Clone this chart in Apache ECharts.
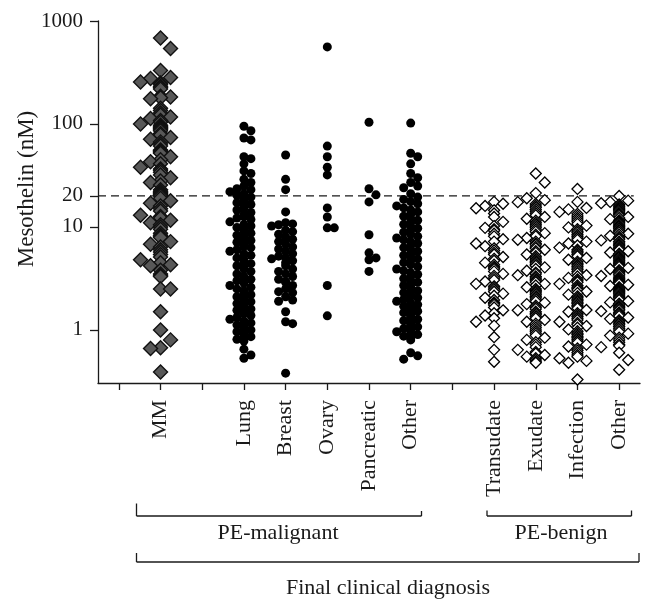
<!DOCTYPE html>
<html><head><meta charset="utf-8">
<script src="https://cdn.jsdelivr.net/npm/echarts@6/dist/echarts.min.js"></script>
<style>html,body{margin:0;padding:0;background:#fff}#c{width:656px;height:601px}</style>
</head><body><div id="c"></div>
<script>
// ---------- data ----------
const categoryNames = ['MM','Lung','Breast','Ovary','Pancreatic','Other','Transudate','Exudate','Infection','Other'];
const categoryPositions = [2,4,5,6,7,8,10,11,12,13];
const categoryGroups = ['mm','mal','mal','mal','mal','mal','ben','ben','ben','ben'];
const tickPositions = [1,2,3,4,5,6,7,8,9,10,11,12,13];
const yTickValues = [1,10,20,100,1000];
const cutoffValue = 20;

const mmValues = [684,540,330,282,276,256,250,243,232,226,219,186,183,180,176,142,
 135,128,122,117,113,108,104,100,97,94,92,91,89,
 86,81,78,74,71,67,64,61,
 56,55,54,53,52,48,45,43,41,38,36.5,35.5,34,
 32,30,28,27,25.5,23,22.2,21.6,21,20.5,20,
 19,18,17,16,15,14.3,13,12.6,12.2,11.6,11,10.5,10,9.5,
 8.7,8.3,8.1,7.9,7.2,6.8,6.4,6.0,5.7,5.4,5.1,
 4.8,4.5,4.3,4.2,3.8,3.5,3.4,3.3,
 2.5,2.5,1.5,1.0,0.8,0.67,0.66,0.39];

const lungValues = [95,86,73,70,48,46,41,35,33,29,27,25,23.5,23,22,21,20.3,19.5,18.8,18,17.2,16.5,16,15.2,14.6,13.8,13.2,12.6,12.2,11.8,11.2,10.6,10.2,9.9,9.4,9.1,8.7,8.3,8.0,7.7,7.4,7.1,6.8,6.5,6.3,6.0,5.8,5.5,5.3,5.0,4.8,4.6,4.4,4.2,4.0,3.9,3.7,3.5,3.3,3.2,3.1,3.0,2.85,2.7,2.6,2.5,2.4,2.3,2.2,2.1,2.0,1.95,1.88,1.8,1.72,1.66,1.6,1.55,1.5,1.44,1.38,1.32,1.27,1.22,1.17,1.12,1.08,1.03,1.0,0.96,0.92,0.89,0.86,0.84,0.81,0.78,0.65,0.57,0.53];

const breastValues = [50,29,23,14,11,10.7,10.5,10.2,9.3,9,8.5,8,7.8,7.6,7.2,6.8,6.4,6.1,5.8,5.5,5.2,5.0,4.9,4.7,4.5,4.2,3.9,3.7,3.5,3.3,3.1,2.95,2.9,2.7,2.5,2.35,2.3,2.1,1.95,1.9,1.5,1.2,1.15,0.38];

const ovaryValues = [560,61,48,38,32,15.3,12.5,9.8,9.8,2.7,1.37];

const pancreaticValues = [104,23.5,20.5,17.5,8.4,5.6,5.0,4.8,3.7];

const otherMalignantValues = [102,52,48,41,33,30,27,25,24,21,19.5,18.5,17.6,16.8,16,15.3,14.6,14,13.3,12.7,12.1,11.6,11.1,10.6,10.1,9.7,9.3,8.9,8.5,8.1,7.8,7.5,7.2,6.9,6.6,6.3,6.0,5.8,5.5,5.3,5.1,4.9,4.7,4.5,4.3,4.1,3.9,3.75,3.6,3.45,3.3,3.15,3.0,2.9,2.8,2.7,2.6,2.5,2.4,2.3,2.2,2.12,2.05,1.98,1.9,1.83,1.76,1.7,1.64,1.58,1.52,1.47,1.42,1.37,1.32,1.27,1.23,1.19,1.15,1.11,1.07,1.03,1.0,0.96,0.93,0.9,0.87,0.84,0.8,0.6,0.56,0.52];

const transudateValues = [17.5,16.8,16,15.2,14.5,13.5,12.5,11.2,10.2,9.8,9.5,9.2,8.6,8.1,7.6,7.2,6.9,6.5,6.2,5.9,5.6,5.4,5.1,4.9,4.7,4.5,4.3,4.1,4.0,3.9,3.7,3.5,3.35,3.2,3.05,2.95,2.8,2.65,2.55,2.45,2.35,2.25,2.15,2.05,1.95,1.85,1.8,1.75,1.65,1.55,1.45,1.38,1.3,1.2,1.1,0.85,0.64,0.49];

const exudateValues = [33,27,21.3,19,18.2,17.4,16.7,16,15.4,14.8,14.2,13.6,13,12.5,12,11.5,11,10.6,10.2,9.8,9.4,9.0,8.7,8.4,8.1,7.8,7.5,7.2,6.9,6.7,6.4,6.2,6.0,5.8,5.6,5.4,5.2,5.0,4.8,4.65,4.5,4.35,4.2,4.05,3.9,3.75,3.6,3.5,3.4,3.3,3.2,3.1,3.0,2.9,2.8,2.7,2.6,2.5,2.42,2.35,2.28,2.2,2.12,2.05,1.98,1.9,1.84,1.78,1.72,1.66,1.6,1.55,1.5,1.45,1.4,1.35,1.3,1.25,1.2,1.15,1.1,1.05,1.0,0.96,0.92,0.88,0.84,0.8,0.76,0.72,0.68,0.64,0.61,0.59,0.57,0.55,0.53,0.51,0.49,0.48];

const infectionValues = [23.4,17.5,15.3,14.8,14,13.4,12.8,12.2,11.7,11.2,10.7,10.3,9.9,9.5,9.1,8.8,8.4,8.1,7.8,7.5,7.2,6.9,6.6,6.3,6.0,5.8,5.6,5.4,5.2,5.0,4.8,4.6,4.45,4.3,4.15,4.0,3.85,3.7,3.55,3.4,3.3,3.2,3.1,3.0,2.9,2.8,2.7,2.6,2.52,2.44,2.36,2.28,2.2,2.12,2.05,1.98,1.92,1.86,1.8,1.74,1.68,1.62,1.56,1.5,1.45,1.4,1.35,1.3,1.25,1.2,1.17,1.13,1.09,1.05,1.01,0.97,0.93,0.9,0.87,0.84,0.81,0.78,0.75,0.72,0.69,0.66,0.63,0.6,0.57,0.55,0.53,0.5,0.48,0.33];

const otherBenignValues = [20,18,17.5,17,16.5,16,15.6,15.2,14.8,14.4,14,13.6,13.2,12.8,12.5,12.2,11.9,11.6,11.3,11,10.7,10.4,10.1,9.8,9.6,9.3,9.1,8.8,8.6,8.4,8.2,8.0,7.8,7.6,7.4,7.2,7.0,6.8,6.6,6.4,6.25,6.1,5.95,5.8,5.65,5.5,5.35,5.2,5.05,4.9,4.78,4.66,4.54,4.42,4.3,4.2,4.1,4.0,3.9,3.8,3.7,3.6,3.5,3.42,3.34,3.26,3.18,3.1,3.02,2.95,2.88,2.81,2.74,2.67,2.6,2.54,2.48,2.42,2.36,2.3,2.24,2.18,2.12,2.06,2.0,1.95,1.9,1.85,1.8,1.75,1.7,1.65,1.6,1.56,1.52,1.48,1.44,1.4,1.36,1.32,1.28,1.24,1.2,1.16,1.12,1.08,1.04,1.0,0.96,0.92,0.88,0.84,0.8,0.76,0.72,0.7,0.68,0.6,0.51,0.41];

const seriesValues = [mmValues,lungValues,breastValues,ovaryValues,pancreaticValues,otherMalignantValues,transudateValues,exudateValues,infectionValues,otherBenignValues];

// ---------- styles ----------
const FONT = 'Liberation Serif';
const INK = '#1a1a1a';
const groupStyle = {
  mm:  {symbol:'diamond', size:14, color:'#585858', border:'#111', bw:1.4, step:10, gap:12,  f:{'0':1,'1':1.6,'-1':1.6,'-2':3.5}},
  mal: {symbol:'circle',  size:9,  color:'#000',    border:'#000', bw:0,   step:7,  gap:6.5, f:{'0':1,'1':1,'-1':1,'-2':4.5}},
  ben: {symbol:'diamond', size:11, color:'#fff',    border:'#000', bw:1.3, step:9,  gap:10,  f:{'0':1,'1':1.6,'-1':1.6,'-2':3.5}}
};

const chart = echarts.init(document.getElementById('c'), null, {renderer:'canvas'});

const baseOption = {
  animation:false,
  backgroundColor:'#fff',
  textStyle:{fontFamily:FONT, color:INK},
  grid:{left:98, right:16, top:21, bottom:218, containLabel:false},
  xAxis:{
    type:'value', min:0.5, max:13.5,
    axisLine:{show:true, lineStyle:{color:INK, width:1.3}},
    axisTick:{show:true, length:7, inside:false, customValues:tickPositions, lineStyle:{color:INK, width:1.3}},
    axisLabel:{show:true, customValues:categoryPositions, rotate:90, margin:17,
      fontFamily:FONT, fontSize:22, color:INK,
      formatter:(v)=>{const i=categoryPositions.indexOf(Math.round(v)); return i>=0?categoryNames[i]:'';}},
    splitLine:{show:false}
  },
  yAxis:{
    type:'log', logBase:10, min:0.305, max:1000,
    axisLine:{show:true, lineStyle:{color:INK, width:1.3}},
    axisTick:{show:true, length:8, inside:false, customValues:yTickValues, lineStyle:{color:INK, width:1.3}},
    axisLabel:{show:true, customValues:yTickValues, margin:15, fontFamily:FONT, fontSize:21, color:INK,
      formatter:(v)=>String(Math.round(v))},
    splitLine:{show:false}
  },
  series:[]
};
chart.setOption(baseOption);

const xUnit = chart.convertToPixel({xAxisIndex:0}, 2) - chart.convertToPixel({xAxisIndex:0}, 1);
function yPx(v){ return chart.convertToPixel({yAxisIndex:0}, v); }

// deterministic column-scatter layout: spread sideways when room, else stack on the centre
function spread(values, pos, st){
  const slots=[0,1,-1,-2];
  const last={};
  const sorted=values.slice().sort((a,b)=>b-a);
  return sorted.map(v=>{
    const y=yPx(v);
    let chosen=0;
    let found=false;
    for(const k of slots){
      const need=st.gap*st.f[String(k)];
      if(last[k]===undefined || Math.abs(y-last[k])>=need){chosen=k;found=true;break;}
    }
    if(!found) chosen=0;
    else last[chosen]=y;
    return [pos+chosen*st.step/xUnit, v];
  });
}

const series=[{
  type:'line', silent:true, symbol:'none', z:1,
  data:[[0.5,cutoffValue],[13.35,cutoffValue]],
  lineStyle:{color:INK, width:1.3, type:[8,5]}
}];
seriesValues.forEach((vals,i)=>{
  const st=groupStyle[categoryGroups[i]];
  series.push({
    type:'scatter', name:categoryNames[i], z:2,
    symbol:st.symbol, symbolSize:st.size,
    itemStyle:{color:st.color, borderColor:st.border, borderWidth:st.bw, opacity:1},
    data:spread(vals, categoryPositions[i], st)
  });
});

const lw=1.3;
function ln(x1,y1,x2,y2){return {type:'line', shape:{x1,y1,x2,y2}, style:{stroke:INK, lineWidth:lw}, silent:true};}
function txt(t,x,y,rot){return {type:'text', x, y, rotation:rot||0, silent:true,
  style:{text:t, fontFamily:FONT, fontSize:22, fill:INK, align:'center', verticalAlign:'middle'}};}

const graphic=[
  {type:'text', x:27, y:189, rotation:Math.PI/2, silent:true,
   style:{text:'Mesothelin (nM)', fontFamily:FONT, fontSize:23, fill:INK, align:'center', verticalAlign:'middle'}},
  ln(136.5,516,421.5,516), ln(136.5,503.5,136.5,516), ln(421.5,511,421.5,516),
  txt('PE-malignant', 278, 533),
  ln(487,516,631.5,516), ln(487,510.5,487,516), ln(631.5,510.5,631.5,516),
  txt('PE-benign', 561, 533),
  ln(136.5,562,639,562), ln(136.5,553,136.5,562), ln(639,553,639,562),
  txt('Final clinical diagnosis', 388, 588)
];

chart.setOption({series, graphic});
</script></body></html>
